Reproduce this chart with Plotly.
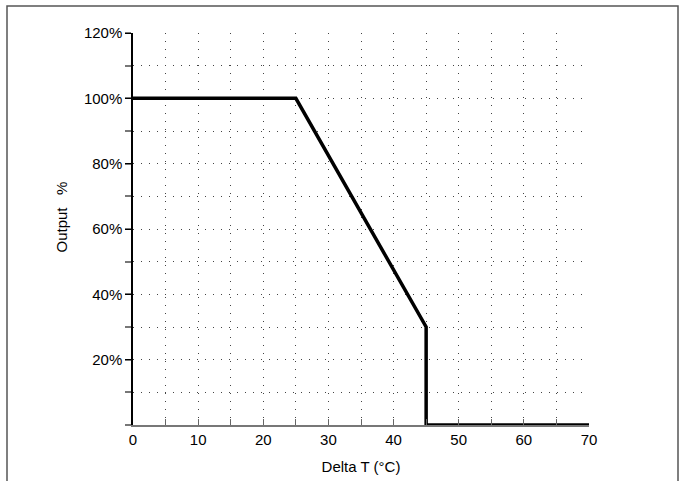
import plotly.graph_objects as go

delta_t = [0, 25, 45, 45, 70]
output_pct = [100, 100, 30, 0, 0]

x_major = [0, 10, 20, 30, 40, 50, 60, 70]
x_labels = ["0", "10", "20", "30", "40", "50", "60", "70"]
y_major = [20, 40, 60, 80, 100, 120]
y_labels = ["20%", "40%", "60%", "80%", "100%", "120%"]

fig = go.Figure()
fig.add_trace(go.Scatter(x=delta_t, y=output_pct, mode="lines",
                         line=dict(color="black", width=3.5),
                         cliponaxis=False, showlegend=False))

dot = "1px,7px"
fig.update_layout(
    width=686, height=481,
    margin=dict(l=133, r=97, t=33, b=56, autoexpand=False),
    paper_bgcolor="white", plot_bgcolor="white",
    font=dict(family="Liberation Sans, Arial, sans-serif", size=15, color="black"),
    xaxis=dict(
        range=[0, 70], tickmode="array", tickvals=x_major, ticktext=x_labels,
        showgrid=True, gridcolor="#444", griddash=dot, gridwidth=1,
        ticks="inside", ticklen=6, tickcolor="#666", tickwidth=1,
        showline=True, linecolor="#777", linewidth=2,
        minor=dict(dtick=5, tick0=0, showgrid=True, gridcolor="#444", griddash=dot,
                   ticks="inside", ticklen=6, tickcolor="#666"),
        zeroline=False, automargin=False,
        title=dict(text="Delta T (°C)", font=dict(size=15), standoff=14),
    ),
    yaxis=dict(
        range=[0, 120], tickmode="array", tickvals=y_major, ticktext=y_labels,
        showgrid=True, gridcolor="#444", griddash=dot, gridwidth=1,
        ticks="outside", ticklen=6, tickcolor="black", tickwidth=1,
        showline=True, linecolor="black", linewidth=1.5,
        minor=dict(dtick=10, tick0=10, showgrid=True, gridcolor="#444", griddash=dot,
                   ticks="outside", ticklen=6, tickcolor="#777", tickwidth=1.5),
        zeroline=False, automargin=False,
    ),
    annotations=[
        dict(text="Output   %", xref="paper", yref="paper",
             x=(61 - 133) / 456, y=(425 - 217.5) / 392, textangle=-90,
             showarrow=False, xanchor="center", yanchor="middle",
             font=dict(size=15)),
    ],
    shapes=[
        dict(type="rect", xref="paper", yref="paper",
             x0=-126/456, x1=545/456, y0=-70/392, y1=419/392,
             line=dict(color="#555", width=1.5), fillcolor="rgba(0,0,0,0)", layer="below"),
    ],
)

fig.write_html("out.html")
